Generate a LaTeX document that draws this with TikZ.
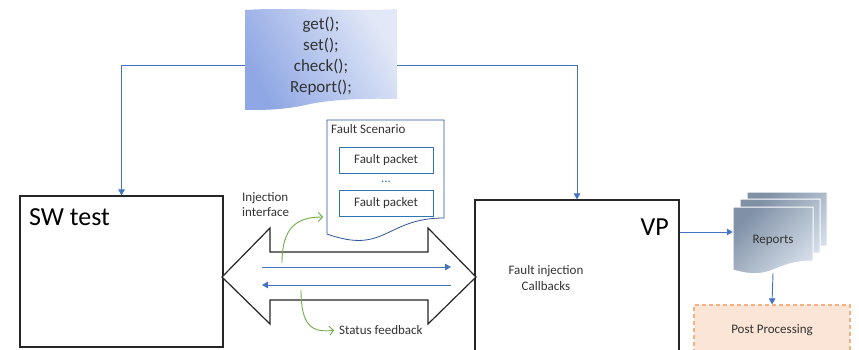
\documentclass[tikz,border=0pt]{standalone}
\usepackage{fontspec}
\setmainfont{Carlito}
\usepackage{xcolor}
\definecolor{linkblue}{RGB}{68,114,196}
\definecolor{pktblue}{RGB}{46,117,182}
\definecolor{docblue}{RGB}{47,85,151}
\definecolor{cuegreen}{RGB}{112,173,71}
\definecolor{apidark}{RGB}{143,167,228}
\definecolor{apilight}{RGB}{226,232,247}
\definecolor{repdark}{RGB}{128,145,166}
\definecolor{replight}{RGB}{216,225,236}
\definecolor{postfill}{RGB}{251,229,214}
\definecolor{postline}{RGB}{244,177,131}
\usepackage{tikz}
\usetikzlibrary{positioning}
\usetikzlibrary{arrows.meta}
\usetikzlibrary{calc}

\begin{document}
\begin{tikzpicture}[x=1pt,y=-1pt,
    every node/.style={font=\fontsize{13}{15.6}\selectfont, text=black!80, inner sep=0pt},
    link/.style={draw=linkblue, line width=0.9pt, -{Triangle[length=6pt,width=6.5pt]}},
    cue/.style={draw=cuegreen, line width=0.9pt, -{Straight Barb[length=4pt,width=9pt]}},
    pkt/.style={draw=pktblue, line width=1pt, minimum width=94pt, minimum height=26pt}]
	\clip (0,0) rectangle (859,350);
	\fill[white] (0,0) rectangle (859,350);

	% main blocks
	\begin{scope}[every node/.append style={draw=black!85, line width=1.2pt}]
	    \node (sw) at (121.5,271.5) [minimum width=203pt, minimum height=151pt] {};
	    \node (vp) at (577,280) [minimum width=204pt, minimum height=160pt] {};
	\end{scope}
	\node[anchor=base west, font=\fontsize{26}{30}\selectfont, text=black] (swname) at (29,225) {SW test};
	\node[anchor=base east, font=\fontsize{26}{30}\selectfont, text=black] (vpname) at (669,235) {VP};
	\node[align=center] (cb) at (546,278) {Fault injection\\Callbacks};

	% API calls
	\shade[left color=apidark, right color=apilight, shading angle=120] (245,10) .. controls (290,7) and (350,12) .. (397,9)
	    -- (397,99) .. controls (360,98) and (330,100) .. (310,104) .. controls (285,110) and (265,110) .. (245,110) -- cycle;
	\node[align=center, font=\fontsize{17}{21}\selectfont, minimum width=152pt] (api) at (321,56) {get();\\set();\\check();\\Report();};
	\draw[link] ([yshift=-9pt]api.west) -| (sw.north);
	\draw[link] ([yshift=-9pt]api.east) -| (vp.north);

	% injection interface
	\draw[black!85, line width=1.2pt, fill=white] (222,277) -- (270,228) -- (270,252) -- (428,252) -- (428,228)
	    -- (476,277) -- (428,324) -- (428,300) -- (270,300) -- (270,324) -- cycle;
	\coordinate (fwdA) at (262,267);
	\coordinate (fwdB) at (451,267);
	\coordinate (bckA) at (451,285);
	\coordinate (bckB) at (262,285);
	\draw[link] (fwdA) -- (fwdB);
	\draw[link] (bckA) -- (bckB);

	% fault scenario
	\draw[docblue, line width=0.8pt, fill=white] (327,120) -- (444,120) -- (444,218)
	    .. controls (385.5,218) and (385.5,255) .. (327,234) -- cycle;
	\node[anchor=base west] (scen) at (331,133) {Fault Scenario};
	\node[pkt] (pk1) at (386,160) {Fault packet};
	\node[text=pktblue] (gap) at (386,182) {...};
	\node[pkt] (pk2) at (386,203.5) {Fault packet};

	\node[anchor=north west, align=left] (inj) at (242,192) {Injection\\interface};
	\node[anchor=base west] (fbtxt) at (339,334) {Status feedback};
	\coordinate (injsrc) at (282,263);
	\coordinate (injtip) at (323,217);
	\coordinate (fbsrc) at (301,290);
	\draw[cue] (injsrc) .. controls (282,228) and (296,217) .. (injtip);
	\draw[cue, shorten >=5pt] (fbsrc) .. controls (301,326) and (312,333) .. (fbtxt.west);

	% reports
	\foreach \dx/\dy in {14/-15, 7/-8, 0/0} {
	    \shade[left color=repdark, right color=replight, shading angle=45, draw=white, line width=1pt, shift={(\dx,\dy)}]
	        (733,207) -- (813,207) -- (813,261) .. controls (773,261) and (773,282) .. (733,270) -- cycle;
	}
	\node[minimum width=80pt, minimum height=66pt] (rep) at (773,240) {Reports};
	\node[draw=postline, dash pattern=on 4pt off 3pt, fill=postfill, line width=1.2pt, minimum width=156pt, minimum height=50pt] (post) at (772,330) {Post Processing};
	\draw[link] ([yshift=8pt]rep.west -| vp.east) -- ([yshift=8pt]rep.west);
	\draw[link] (rep.south) -- (post.north);
\end{tikzpicture}
\end{document}
